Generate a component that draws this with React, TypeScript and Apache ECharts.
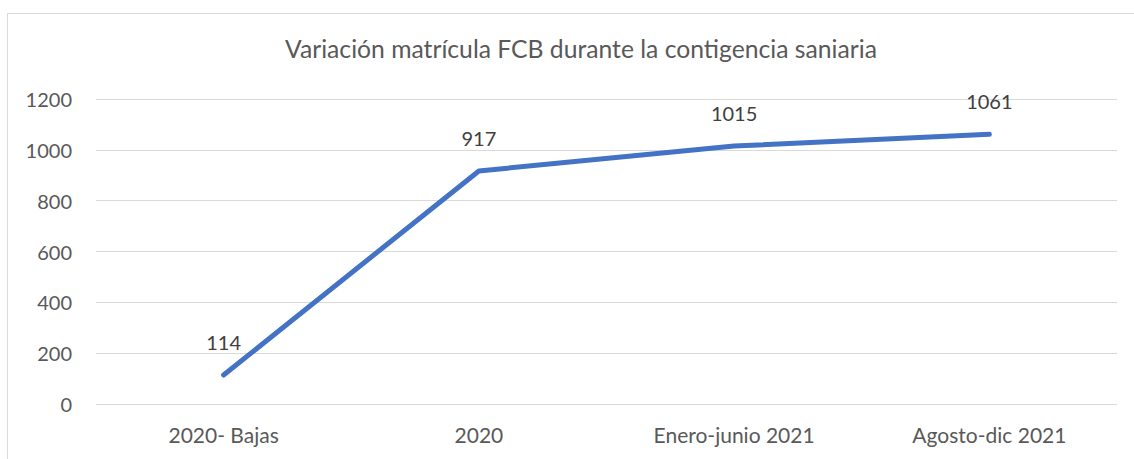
import React, { useEffect, useRef } from "react";
import * as echarts from "echarts";

const categories = ["2020- Bajas", "2020", "Enero-junio 2021", "Agosto-dic 2021"];
const values = [114, 917, 1015, 1061];
const titleText = "Variación matrícula FCB durante la contigencia saniaria";

const FONT = "Lato";
const TEXT = "#595959";

export default function App() {
  const ref = useRef<HTMLDivElement>(null);
  useEffect(() => {
    if (!ref.current) return;
    const chart = echarts.init(ref.current, undefined, { renderer: "svg" });
    chart.setOption({
      animation: false,
      backgroundColor: "#ffffff",
      title: {
        text: titleText,
        left: 280,
        top: 31,
        textStyle: { fontFamily: FONT, fontSize: 24.7, fontWeight: "normal", color: TEXT },
      },
      graphic: [
        {
          type: "rect",
          shape: { x: 7.5, y: 13.5, width: 1200, height: 600 },
          style: { fill: "none", stroke: "#d9d9d9", lineWidth: 1 },
          silent: true,
        },
      ],
      grid: { left: 96, right: 17, top: 99, bottom: 55, containLabel: false },
      xAxis: {
        type: "category",
        data: categories,
        boundaryGap: true,
        axisLine: { show: false },
        axisTick: { show: false },
        axisLabel: { color: TEXT, fontFamily: FONT, fontSize: 21, margin: 20 },
      },
      yAxis: {
        type: "value",
        min: 0,
        max: 1200,
        interval: 200,
        axisLine: { show: false },
        axisTick: { show: false },
        axisLabel: {
          color: TEXT,
          fontFamily: FONT,
          fontSize: 20,
          margin: 24,
          formatter: (v: number) => String(v),
        },
        splitLine: { lineStyle: { color: "#d9d9d9", width: 1 } },
      },
      series: [
        {
          type: "line",
          data: values,
          symbol: "circle",
          symbolSize: 2,
          showSymbol: true,
          itemStyle: { color: "#4472C4" },
          lineStyle: { color: "#4472C4", width: 5, cap: "round", join: "round" },
          label: {
            show: true,
            position: "top",
            distance: 22,
            color: "#404040",
            fontFamily: FONT,
            fontSize: 20,
          },
        },
      ],
    });
    return () => chart.dispose();
  }, []);
  return (
    <div
      ref={ref}
      style={{ position: "fixed", left: 0, top: 0, width: 1134, height: 459 }}
    />
  );
}
